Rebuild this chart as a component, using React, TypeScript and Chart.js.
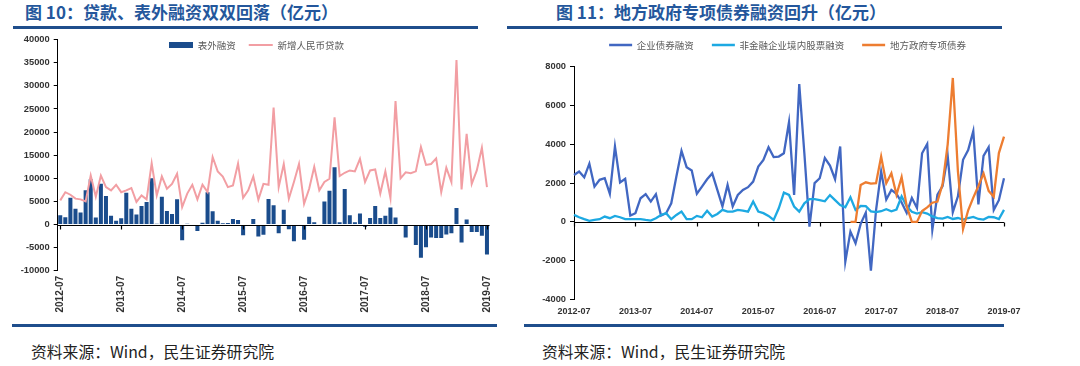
import React, { useEffect, useRef } from 'react';
import { Chart, registerables } from 'chart.js';

Chart.register(...registerables);

// ---------- categories ----------
const months: string[] = [];
for (let y = 2012, m = 7; y < 2019 || (y === 2019 && m <= 7); ) {
  months.push(`${y}-${String(m).padStart(2, '0')}`);
  m++;
  if (m > 12) { m = 1; y++; }
}

// ---------- left chart data (亿元) ----------
const offBalance: number[] = [
  2000, 1600, 5800, 3400, 2600, 7400, 9800, 1500, 8800, 6200, 1900, 800,
  1360, 6900, 3400, 2150, 4000, 4900, 10000, 200, 6000, 2950, 2300, 5450,
  -3370, 200, -300, -1400, 400, 7000, 2900, 800, 300, 350, 1200, 1000,
  -2300, -300, 1200, -2600, -2200, 5500, 4200, -1900, 3200, -1000, -3600, -300,
  -3300, 1700, 500, -300, 5000, 7300, 12400, 500, 7700, 2000, 500, 2400,
  -500, 1400, 4000, 1400, 1900, 3700, 1500, -200, -2800, -300, -4400, -7200,
  -4900, -2800, -2900, -2900, -2150, -1900, 3600, -3900, 1100, -1600, -1600, -2400,
  -6500,
];
const newLoans: number[] = [
  5230, 7000, 6450, 5600, 5450, 5000, 10600, 6000, 10600, 8100, 7400, 8600,
  7000, 7400, 7900, 4900, 6300, 5450, 13260, 6300, 10400, 7750, 8800, 11000,
  3800, 6700, 8600, 5450, 8600, 7000, 14600, 11500, 10400, 8100, 8450, 13200,
  5800, 7400, 10400, 5400, 8800, 8600, 25300, 8100, 13100, 5600, 9200, 13100,
  4500, 7750, 12500, 7400, 9200, 9900, 23200, 10500, 11200, 11700, 11500, 14200,
  9200, 11700, 11900, 6700, 11500, 5700, 26700, 10000, 11300, 11100, 11500, 16800,
  12900, 13100, 14300, 7000, 12300, 9200, 35600, 7600, 19600, 8800, 11700, 16600,
  8100,
];
const leftYTicks = { min: -10000, max: 40000, step: 5000 };

// ---------- right chart data (亿元) ----------
const corpBond: number[] = [
  2420, 2600, 2300, 3000, 1820, 2170, 2250, 1450, 3890, 2030, 2220, 330,
  450, 1220, 1430, 1050, 1430, 330, 450, 960, 2340, 3660, 2820, 2650,
  1450, 1820, 2200, 2500, 1650, 800, 1900, 800, 1390, 1650, 1790, 2080,
  2850, 3200, 3850, 3340, 3370, 3540, 5140, 1390, 7100, 3540, -240, 2000,
  2250, 3290, 2900, 2200, 3890, -2050, -500, -1100, -100, 480, -2510, 600,
  2600, 1150, 1650, 1450, 1000, 460, 1240, 720, 3540, 4020, -400, 1400,
  1840, 3400, 500, 1320, 3200, 3700, 4680, 900, 3400, 3850, 620, 1120,
  2250,
];
const equity: number[] = [
  360, 240, 140, 50, 100, 140, 275, 190, 310, 240, 140, 140,
  140, 140, 100, 70, 190, 360, 450, 140, 360, 530, 140, 140,
  310, 240, 570, 275, 410, 620, 530, 530, 620, 580, 530, 1050,
  530, 450, 310, 100, 700, 1510, 1390, 790, 530, 960, 1170, 1170,
  1120, 1060, 1380, 1120, 870, 760, 1270, 620, 820, 810, 540, 500,
  550, 650, 550, 640, 1320, 800, 520, 430, 500, 430, 280, 200,
  170, 260, 150, 200, 120, 200, 260, 150, 120, 260, 240, 150,
  620,
];
const specialBondStart = 54; // first month with data: 2017-01
const specialBondValues: number[] = [
  0, 0, 1900, 2040, 1970, 2000, 3370, 1990, 2510, 1400, 2310, 800,
  0, 0, 560, 750, 990, 1050, 1950, 4000, 7420, 2600, -370, 600,
  1250, 1850, 2500, 1600, 1300, 3550, 4400,
];
const specialBond: (number | null)[] = (new Array(specialBondStart).fill(null) as (number | null)[]).concat(specialBondValues);
const rightYTicks = { min: -4000, max: 8000, step: 2000 };

// ---------- styles ----------
const FONT_NUM = '"Liberation Sans", Arial, sans-serif';
const FONT_CJK = '"Noto Sans CJK SC", "Noto Sans", sans-serif';
const TITLE_COLOR = '#24579C';
const RULE_COLOR = '#1F4E8C';
const BAR_COLOR = '#1A4C8C';
const PINK = '#F29EA3';
const BLUE = '#4167C2';
const CYAN = '#1DA9E2';
const ORANGE = '#ED7D31';
const TICK_COLOR = '#333333';
const LEGEND_FONT = 9.5;

const zeroAxis = (below: boolean) => {
  const draw = (chart: any) => {
    const { ctx, chartArea, scales } = chart;
    const x = scales.x;
    const y = scales.y;
    const y0 = Math.round(y.getPixelForValue(0)) + 0.5;
    ctx.save();
    ctx.strokeStyle = '#000';
    ctx.lineWidth = 1.2;
    ctx.beginPath();
    ctx.moveTo(chartArea.left, y0);
    ctx.lineTo(chartArea.right, y0);
    for (let i = 0; i < months.length; i += 12) {
      const px = Math.round(x.getPixelForValue(i)) + 0.5;
      ctx.moveTo(px, y0);
      ctx.lineTo(px, y0 + 4);
    }
    ctx.stroke();
    ctx.restore();
  };
  return below
    ? { id: 'zeroAxis', beforeDatasetsDraw: draw }
    : { id: 'zeroAxis', afterDatasetsDraw: draw };
};

// Legend takes no layout space (maxHeight tiny); place it by its centre.
const legendPlace = (cx: number, cy: number) => ({
  id: 'legendPlace',
  afterLayout(chart: any) {
    const lg = chart.legend;
    if (!lg) return;
    const w = lg.right - lg.left;
    const pad = lg.options.labels.padding;
    lg.left = cx - w / 2;
    lg.right = cx + w / 2;
    lg.top = cy - pad - LEGEND_FONT / 2;
    lg.bottom = lg.top + pad * 2 + LEGEND_FONT + 4;
    lg.height = lg.bottom - lg.top;
  },
});

const legendOptions = (padding: number, styles: string[], boxW: number) => ({
  display: true,
  position: 'top',
  align: 'center',
  maxHeight: 0.01,
  labels: {
    usePointStyle: true,
    pointStyleWidth: boxW,
    boxWidth: boxW,
    boxHeight: 6,
    padding,
    color: '#595959',
    font: { family: FONT_CJK, size: LEGEND_FONT },
    generateLabels: (chart: any) => {
      const items = (Chart.defaults.plugins.legend.labels as any).generateLabels(chart);
      items.sort((a: any, b: any) => a.datasetIndex - b.datasetIndex);
      items.forEach((it: any) => { it.pointStyle = styles[it.datasetIndex]; });
      return items;
    },
  },
});

const yAxis = (t: { min: number; max: number; step: number }, width: number, size: number) => ({
  min: t.min,
  max: t.max,
  ticks: {
    stepSize: t.step,
    padding: 4,
    color: TICK_COLOR,
    font: { family: FONT_NUM, size, weight: 'bold' },
    callback: (v: any) => String(v),
  },
  grid: { drawOnChartArea: false, drawTicks: true, tickLength: 4, color: '#000' },
  border: { color: '#000', width: 1 },
  afterFit: (s: any) => { s.width = width; },
});

const xAxis = (rotation: number, padding: number, height: number, size: number) => ({
  grid: { display: false, drawTicks: false },
  border: { display: false },
  ticks: {
    autoSkip: false,
    minRotation: rotation,
    maxRotation: rotation,
    padding,
    color: TICK_COLOR,
    font: { family: FONT_NUM, size, weight: 'bold' },
    callback: (_v: any, i: number) => (i % 12 === 0 ? months[i] : ''),
  },
  afterFit: (s: any) => { s.height = height; },
});

function leftConfig(): any {
  return {
    type: 'bar',
    data: {
      labels: months,
      datasets: [
        {
          type: 'bar', label: '表外融资', data: offBalance, backgroundColor: BAR_COLOR,
          borderWidth: 0, categoryPercentage: 0.9, barPercentage: 0.88, order: 2,
        },
        {
          type: 'line', label: '新增人民币贷款', data: newLoans, borderColor: PINK,
          backgroundColor: PINK, borderWidth: 2, pointRadius: 0, tension: 0, order: 1,
        },
      ],
    },
    options: {
      responsive: false,
      animation: false,
      devicePixelRatio: 1,
      layout: { padding: { left: 0, right: 22.5, top: 8.3, bottom: 0 } },
      plugins: {
        legend: legendOptions(13, ['rect', 'line'], 24),
        tooltip: { enabled: false },
      },
      scales: {
        x: xAxis(90, 5, 53.2, 10),
        y: yAxis(leftYTicks, 57.7, 9.3),
      },
    },
    plugins: [zeroAxis(false), legendPlace(256.5, 15)],
  };
}

function rightConfig(): any {
  return {
    type: 'line',
    data: {
      labels: months,
      datasets: [
        { label: '企业债券融资', data: corpBond, borderColor: BLUE, backgroundColor: BLUE, borderWidth: 2.3, pointRadius: 0, tension: 0, order: 3 },
        { label: '非金融企业境内股票融资', data: equity, borderColor: CYAN, backgroundColor: CYAN, borderWidth: 2.3, pointRadius: 0, tension: 0, order: 2 },
        { label: '地方政府专项债券', data: specialBond, borderColor: ORANGE, backgroundColor: ORANGE, borderWidth: 2.3, pointRadius: 0, tension: 0, order: 1 },
      ],
    },
    options: {
      responsive: false,
      animation: false,
      devicePixelRatio: 1,
      layout: { padding: { left: 0, right: 50, top: 36.7, bottom: 0 } },
      plugins: {
        legend: legendOptions(18, ['line', 'line', 'line'], 23),
        tooltip: { enabled: false },
      },
      scales: {
        x: xAxis(0, 7, 24.5, 9),
        y: yAxis(rightYTicks, 54, 9.3),
      },
    },
    plugins: [zeroAxis(true), legendPlace(267.5, 15)],
  };
}

const ruleStyle = (left: number, top: number, width: number): React.CSSProperties => ({
  position: 'absolute', left, top, width, height: 2.5, background: RULE_COLOR,
});

const titleStyle = (left: number): React.CSSProperties => ({
  position: 'absolute', left, top: 2, font: `bold 17px ${FONT_CJK}`, color: TITLE_COLOR,
  lineHeight: '20px', whiteSpace: 'nowrap',
});

const sourceStyle = (left: number): React.CSSProperties => ({
  position: 'absolute', left, top: 341, font: `15.8px ${FONT_CJK}`, color: '#222',
  lineHeight: '22px', whiteSpace: 'nowrap',
});

export default function App() {
  const leftRef = useRef<HTMLCanvasElement>(null);
  const rightRef = useRef<HTMLCanvasElement>(null);

  useEffect(() => {
    const c1 = new Chart(leftRef.current as HTMLCanvasElement, leftConfig());
    const c2 = new Chart(rightRef.current as HTMLCanvasElement, rightConfig());
    return () => { c1.destroy(); c2.destroy(); };
  }, []);

  return (
    <div style={{ position: 'absolute', left: 0, top: 0, width: 1080, height: 366, background: '#fff', overflow: 'hidden' }}>
      <div style={titleStyle(25)}>图 10：贷款、表外融资双双回落（亿元）</div>
      <div style={titleStyle(556)}>图 11：地方政府专项债券融资回升（亿元）</div>
      <div style={ruleStyle(13, 26, 465)} />
      <div style={ruleStyle(507, 26, 495)} />
      <canvas ref={leftRef} width={512} height={294} style={{ position: 'absolute', left: 0, top: 30, width: 512, height: 294 }} />
      <canvas ref={rightRef} width={534} height={294} style={{ position: 'absolute', left: 520, top: 30, width: 534, height: 294 }} />
      <div style={ruleStyle(12, 324, 485)} />
      <div style={ruleStyle(524, 324, 480)} />
      <div style={sourceStyle(31)}>资料来源：Wind，民生证券研究院</div>
      <div style={sourceStyle(542)}>资料来源：Wind，民生证券研究院</div>
    </div>
  );
}
